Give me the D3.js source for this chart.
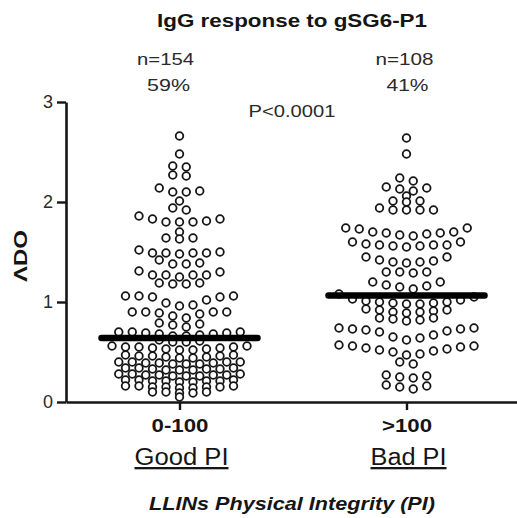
<!DOCTYPE html>
<html>
<head>
<meta charset="utf-8">
<script src="https://cdn.jsdelivr.net/npm/d3@7"></script>
<style>
  html, body { margin: 0; padding: 0; background: #fff; }
  svg { display: block; font-family: "Liberation Sans", Arial, sans-serif; }
</style>
</head>
<body>
<svg id="chart" width="517" height="518"></svg>
<script>
// ---------------- data ----------------
const categories   = ["0-100", ">100"];
const groupLabels  = ["Good PI", "Bad PI"];
const countLabels  = ["n=154", "n=108"];
const shareLabels  = ["59%", "41%"];
const yTicks       = [0, 1, 2, 3];
const pLabel       = "P<0.0001";
const titleText    = "IgG response to gSG6-P1";
const xTitleText   = "LLINs Physical Integrity (PI)";
const yTitleText   = "\u039BDO";

// ΔOD values, group "0-100" (Good PI), n = 154
const goodPI = [
  2.66,
  2.48,
  2.36, 2.35,
  2.27, 2.26,
  2.14, 2.11, 2.10, 2.10,
  2.01,
  1.94, 1.92,
  1.86, 1.83, 1.83, 1.81, 1.80, 1.80, 1.80,
  1.70,
  1.64, 1.64, 1.63,
  1.52, 1.50, 1.49, 1.49, 1.49, 1.49, 1.48,
  1.42, 1.39, 1.38, 1.38,
  1.31, 1.30, 1.27, 1.27, 1.27, 1.27, 1.25,
  1.19, 1.19, 1.18, 1.18,
  1.06, 1.06, 1.06, 1.05, 1.05, 1.02, 0.99, 0.97, 0.96,
  0.90, 0.90, 0.90, 0.90, 0.89, 0.88, 0.86, 0.84,
  0.79, 0.78, 0.77, 0.75,
  0.70, 0.70, 0.70, 0.69, 0.69, 0.68, 0.68, 0.67, 0.66, 0.66,
  0.62, 0.61, 0.60, 0.60,
  0.56, 0.56, 0.55, 0.55, 0.55, 0.54, 0.54, 0.53, 0.53, 0.52, 0.52,
  0.47, 0.47, 0.46, 0.46, 0.46, 0.45, 0.45, 0.44, 0.44,
  0.40, 0.40, 0.40, 0.40, 0.39, 0.39, 0.39, 0.38, 0.38, 0.38,
  0.34, 0.34, 0.34, 0.33, 0.33, 0.33, 0.32, 0.32, 0.32,
  0.28, 0.28, 0.28, 0.27, 0.27, 0.27, 0.27, 0.26, 0.26, 0.26,
  0.22, 0.22, 0.22, 0.21, 0.21, 0.21, 0.21, 0.20, 0.20,
  0.16, 0.16, 0.16, 0.15, 0.15, 0.15, 0.15, 0.14, 0.14,
  0.10, 0.10, 0.10, 0.09, 0.09,
  0.05
];

// ΔOD values, group ">100" (Bad PI), n = 108
const badPI = [
  2.64,
  2.48,
  2.24, 2.21,
  2.15, 2.14, 2.13, 2.11,
  2.06,
  2.01, 2.01, 2.00,
  1.94, 1.92, 1.92, 1.92, 1.92,
  1.74, 1.74, 1.73, 1.70, 1.70, 1.69, 1.69, 1.68, 1.67, 1.66,
  1.60, 1.60, 1.58, 1.57, 1.57, 1.57, 1.56, 1.56, 1.55,
  1.45, 1.45, 1.42, 1.41, 1.40, 1.40, 1.39,
  1.30, 1.30, 1.30, 1.29,
  1.20, 1.20, 1.17, 1.16, 1.15, 1.13, 1.08,
  1.05, 1.03, 1.02, 1.01, 1.00, 1.00, 0.99, 0.99, 0.98, 0.98,
  0.93, 0.92, 0.92, 0.91, 0.90, 0.90, 0.89,
  0.84, 0.84, 0.83, 0.82, 0.81,
  0.74, 0.74, 0.73, 0.73, 0.72, 0.71, 0.70, 0.67, 0.65, 0.64, 0.62,
  0.57, 0.56, 0.56, 0.55, 0.54, 0.53, 0.52, 0.51, 0.50, 0.48, 0.47,
  0.40, 0.38,
  0.27, 0.26, 0.25, 0.24,
  0.17, 0.16, 0.15, 0.13
];

const groups = [goodPI, badPI];

// ---------------- layout / style ----------------
const axisX = 66, axisY = 402, axisTop = 102;
const dotSpacing = 13.5, dotR = 3.8, rowGap = 0.035;
const medianHalf = 78;
const noteOffsets = [-14, -2];
const ink = "#151515";

const svg = d3.select("#chart");

const x = d3.scalePoint().domain(categories).range([axisX, 520]).padding(0.5);
const y = d3.scaleLinear().domain([0, 3]).range([axisY, axisTop]);

// Scatter-dot layout: rows of near-equal values, spread symmetrically,
// lowest values of a row in the middle, highest at the ends
function layout(values, cat) {
  const sorted = values.slice().sort((a, b) => b - a);
  const rows = [];
  let cur = [];
  sorted.forEach((v, i) => {
    if (i > 0 && sorted[i - 1] - v > rowGap) { rows.push(cur); cur = []; }
    cur.push(v);
  });
  if (cur.length) rows.push(cur);
  const pts = [];
  rows.forEach(row => {
    const n = row.length;
    const asc = row.slice().sort((a, b) => a - b);
    const slots = d3.range(n).map(j => j - (n - 1) / 2)
      .sort((a, b) => Math.abs(a) - Math.abs(b) || b - a);
    asc.forEach((v, i) => {
      pts.push({ v, cx: x(cat) + slots[i] * dotSpacing, cy: y(v) });
    });
  });
  return pts;
}

function stretchText(sel, len) {
  return sel.attr("textLength", len).attr("lengthAdjust", "spacingAndGlyphs");
}

// Title
stretchText(svg.append("text")
  .attr("x", 292).attr("y", 27)
  .attr("text-anchor", "middle")
  .attr("font-size", 17.5).attr("font-weight", "bold")
  .attr("fill", ink)
  .text(titleText), 270);

// n and % annotations
const countW = [57, 58], shareW = [43, 42];
categories.forEach((c, i) => {
  stretchText(svg.append("text")
    .attr("x", x(c) + noteOffsets[i]).attr("y", 65)
    .attr("text-anchor", "middle").attr("font-size", 16.5)
    .attr("fill", "#2a2a2a").text(countLabels[i]), countW[i]);
  stretchText(svg.append("text")
    .attr("x", x(c) + noteOffsets[i] + 3).attr("y", 91)
    .attr("text-anchor", "middle").attr("font-size", 16.5)
    .attr("fill", "#2a2a2a").text(shareLabels[i]), shareW[i]);
});

// P value
stretchText(svg.append("text")
  .attr("x", 292).attr("y", 117)
  .attr("text-anchor", "middle").attr("font-size", 16.5)
  .attr("fill", "#2a2a2a").text(pLabel), 87);

// Y axis
const yAxis = svg.append("g")
  .attr("transform", `translate(${axisX},0)`)
  .call(d3.axisLeft(y).tickValues(yTicks).tickFormat(d3.format("d"))
        .tickSize(9).tickSizeOuter(0).tickPadding(4));
yAxis.select(".domain").attr("stroke", ink).attr("stroke-width", 2.6);
yAxis.selectAll(".tick line").attr("stroke", ink).attr("stroke-width", 2.4);
yAxis.selectAll(".tick text")
  .attr("font-size", 18).attr("font-family", "Liberation Sans, Arial, sans-serif")
  .attr("fill", "#2a2a2a");

// X axis
const xAxis = svg.append("g")
  .attr("transform", `translate(0,${axisY})`)
  .call(d3.axisBottom(x).tickSize(8).tickSizeOuter(0).tickPadding(9));
xAxis.select(".domain").attr("stroke", ink).attr("stroke-width", 2.6);
xAxis.selectAll(".tick line").attr("stroke", ink).attr("stroke-width", 2.4);
const catW = [57, 50];
xAxis.selectAll(".tick text")
  .attr("font-size", 18).attr("font-weight", "bold")
  .attr("font-family", "Liberation Sans, Arial, sans-serif")
  .attr("fill", ink)
  .attr("textLength", (d, i) => catW[i]).attr("lengthAdjust", "spacingAndGlyphs");

// Group sub labels (underlined)
const subW = [94, 76];
categories.forEach((c, i) => {
  stretchText(svg.append("text")
    .attr("x", x(c) + 2).attr("y", 465)
    .attr("text-anchor", "middle").attr("font-size", 23)
    .attr("text-decoration", "underline")
    .attr("fill", ink).text(groupLabels[i]), subW[i]);
});

// X title
stretchText(svg.append("text")
  .attr("x", 292).attr("y", 510)
  .attr("text-anchor", "middle").attr("font-size", 19)
  .attr("font-weight", "bold").attr("font-style", "italic")
  .attr("fill", ink).text(xTitleText), 286);

// Y title
stretchText(svg.append("text")
  .attr("transform", "translate(27,256) rotate(-90)")
  .attr("text-anchor", "middle").attr("font-size", 18)
  .attr("font-weight", "bold")
  .attr("fill", ink).text(yTitleText), 52);

// Dots and medians
categories.forEach((c, i) => {
  const pts = layout(groups[i], c);
  svg.append("g").selectAll("circle").data(pts).join("circle")
    .attr("cx", d => d.cx).attr("cy", d => d.cy).attr("r", dotR)
    .attr("fill", "#fff").attr("stroke", ink).attr("stroke-width", 1.8);
  const med = d3.median(groups[i]);
  svg.append("line")
    .attr("x1", x(c) - medianHalf).attr("x2", x(c) + medianHalf)
    .attr("y1", y(med)).attr("y2", y(med))
    .attr("stroke", "#000").attr("stroke-width", 6.5)
    .attr("stroke-linecap", "round");
});
</script>
</body>
</html>
